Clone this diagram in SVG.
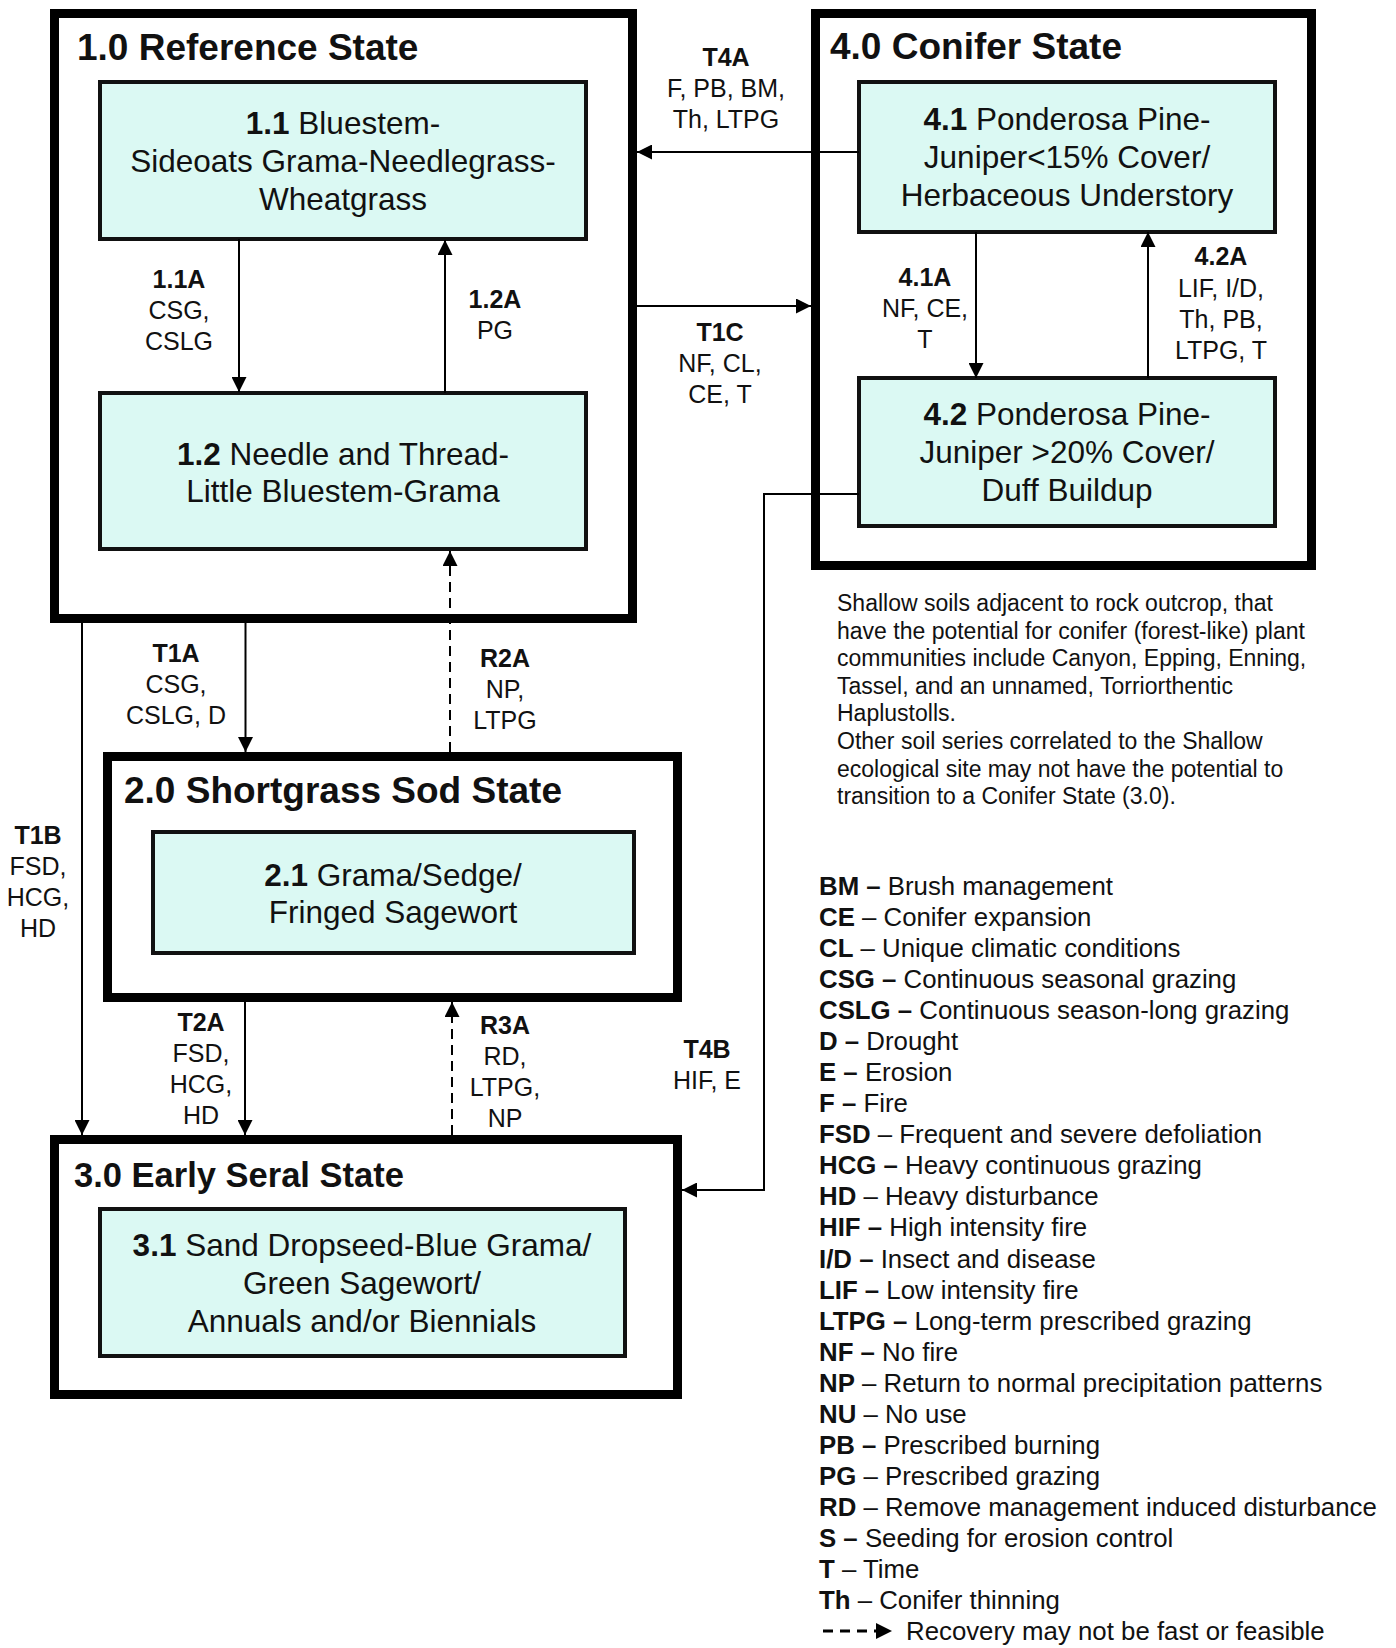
<svg xmlns="http://www.w3.org/2000/svg" width="1396" height="1648" viewBox="0 0 1396 1648">
<defs>
<style>
text{font-family:"Liberation Sans",Arial,sans-serif;fill:#111}
.outer{fill:#fff;stroke:#000;stroke-width:9}
.inner{fill:#dbf9f3;stroke:#111;stroke-width:4}
.title{font-size:37px;font-weight:bold}
.bt{font-size:31.5px;text-anchor:middle}
.lbl{font-size:25px;text-anchor:middle}
.b{font-weight:bold}
.conn{stroke:#000;stroke-width:2;fill:none}
.dash{stroke-dasharray:10 6}
.note{font-size:23px}
.leg{font-size:25.8px}
</style>
<marker id="ah" markerUnits="userSpaceOnUse" markerWidth="15" markerHeight="15" refX="15" refY="7.5" orient="auto">
<path d="M0,0 L15,7.5 L0,15 Z" fill="#000"/>
</marker>
</defs>
<rect width="1396" height="1648" fill="#fff"/>

<g id="state1">
<rect class="outer" x="54.5" y="13.5" width="578" height="605"/>
<text class="title" x="77" y="60">1.0 Reference State</text>
</g>
<g id="node11">
<rect class="inner" x="100" y="82" width="486" height="157"/>
<text class="bt" x="343" y="134"><tspan class="b">1.1</tspan> Bluestem-</text>
<text class="bt" x="343" y="172">Sideoats Grama-Needlegrass-</text>
<text class="bt" x="343" y="210">Wheatgrass</text>
</g>
<g id="node12">
<rect class="inner" x="100" y="393" width="486" height="156"/>
<text class="bt" x="343" y="465"><tspan class="b">1.2</tspan> Needle and Thread-</text>
<text class="bt" x="343" y="502">Little Bluestem-Grama</text>
</g>

<g id="state4">
<rect class="outer" x="815.5" y="13.5" width="496" height="552"/>
<text class="title" x="830" y="59">4.0 Conifer State</text>
</g>
<g id="node41">
<rect class="inner" x="859" y="82" width="416" height="150"/>
<text class="bt" x="1067" y="130"><tspan class="b">4.1</tspan> Ponderosa Pine-</text>
<text class="bt" x="1067" y="168">Juniper&lt;15% Cover/</text>
<text class="bt" x="1067" y="206">Herbaceous Understory</text>
</g>
<g id="node42">
<rect class="inner" x="859" y="378" width="416" height="148"/>
<text class="bt" x="1067" y="425"><tspan class="b">4.2</tspan> Ponderosa Pine-</text>
<text class="bt" x="1067" y="463">Juniper &gt;20% Cover/</text>
<text class="bt" x="1067" y="501">Duff Buildup</text>
</g>

<g id="state2">
<rect class="outer" x="107.5" y="756.5" width="570" height="241"/>
<text class="title" x="124" y="803">2.0 Shortgrass Sod State</text>
</g>
<g id="node21">
<rect class="inner" x="153" y="832" width="481" height="121"/>
<text class="bt" x="393" y="886"><tspan class="b">2.1</tspan> Grama/Sedge/</text>
<text class="bt" x="393" y="923">Fringed Sagewort</text>
</g>

<g id="state3">
<rect class="outer" x="54.5" y="1139.5" width="623" height="255"/>
<text class="title" x="74" y="1187" style="font-size:34.5px">3.0 Early Seral State</text>
</g>
<g id="node31">
<rect class="inner" x="100" y="1209" width="525" height="147"/>
<text class="bt" x="362" y="1256"><tspan class="b">3.1</tspan> Sand Dropseed-Blue Grama/</text>
<text class="bt" x="362" y="1294">Green Sagewort/</text>
<text class="bt" x="362" y="1332">Annuals and/or Biennials</text>
</g>

<g id="connectors">
<line class="conn" x1="239" y1="239" x2="239" y2="392" marker-end="url(#ah)"/>
<line class="conn" x1="445" y1="393" x2="445" y2="240" marker-end="url(#ah)"/>
<line class="conn" x1="245.5" y1="623" x2="245.5" y2="752" marker-end="url(#ah)"/>
<line class="conn dash" x1="450" y1="752" x2="450" y2="551" marker-end="url(#ah)"/>
<line class="conn" x1="82" y1="623" x2="82" y2="1135" marker-end="url(#ah)"/>
<line class="conn" x1="245" y1="1002" x2="245" y2="1135" marker-end="url(#ah)"/>
<line class="conn dash" x1="452" y1="1135" x2="452" y2="1002" marker-end="url(#ah)"/>
<line class="conn" x1="859" y1="152" x2="637" y2="152" marker-end="url(#ah)"/>
<line class="conn" x1="637" y1="306" x2="811" y2="306" marker-end="url(#ah)"/>
<line class="conn" x1="976" y1="232" x2="976" y2="378" marker-end="url(#ah)"/>
<line class="conn" x1="1148" y1="378" x2="1148" y2="232" marker-end="url(#ah)"/>
<path class="conn" d="M859,494 L764,494 L764,1190 L682,1190" marker-end="url(#ah)"/>
</g>

<g id="labels">
<text class="lbl"><tspan class="b" x="179" y="288">1.1A</tspan><tspan x="179" y="319">CSG,</tspan><tspan x="179" y="350">CSLG</tspan></text>
<text class="lbl"><tspan class="b" x="495" y="308">1.2A</tspan><tspan x="495" y="339">PG</tspan></text>
<text class="lbl"><tspan class="b" x="726" y="66">T4A</tspan><tspan x="726" y="97">F, PB, BM,</tspan><tspan x="726" y="128">Th, LTPG</tspan></text>
<text class="lbl"><tspan class="b" x="720" y="341">T1C</tspan><tspan x="720" y="372">NF, CL,</tspan><tspan x="720" y="403">CE, T</tspan></text>
<text class="lbl"><tspan class="b" x="925" y="286">4.1A</tspan><tspan x="925" y="317">NF, CE,</tspan><tspan x="925" y="348">T</tspan></text>
<text class="lbl"><tspan class="b" x="1221" y="265">4.2A</tspan><tspan x="1221" y="297">LIF, I/D,</tspan><tspan x="1221" y="328">Th, PB,</tspan><tspan x="1221" y="359">LTPG, T</tspan></text>
<text class="lbl"><tspan class="b" x="176" y="662">T1A</tspan><tspan x="176" y="693">CSG,</tspan><tspan x="176" y="724">CSLG, D</tspan></text>
<text class="lbl"><tspan class="b" x="505" y="667">R2A</tspan><tspan x="505" y="698">NP,</tspan><tspan x="505" y="729">LTPG</tspan></text>
<text class="lbl"><tspan class="b" x="38" y="844">T1B</tspan><tspan x="38" y="875">FSD,</tspan><tspan x="38" y="906">HCG,</tspan><tspan x="38" y="937">HD</tspan></text>
<text class="lbl"><tspan class="b" x="201" y="1031">T2A</tspan><tspan x="201" y="1062">FSD,</tspan><tspan x="201" y="1093">HCG,</tspan><tspan x="201" y="1124">HD</tspan></text>
<text class="lbl"><tspan class="b" x="505" y="1034">R3A</tspan><tspan x="505" y="1065">RD,</tspan><tspan x="505" y="1096">LTPG,</tspan><tspan x="505" y="1127">NP</tspan></text>
<text class="lbl"><tspan class="b" x="707" y="1058">T4B</tspan><tspan x="707" y="1089">HIF, E</tspan></text>
</g>

<g id="note">
<text class="note" x="837" y="611">Shallow soils adjacent to rock outcrop, that</text>
<text class="note" x="837" y="638.6">have the potential for conifer (forest-like) plant</text>
<text class="note" x="837" y="666.2">communities include Canyon, Epping, Enning,</text>
<text class="note" x="837" y="693.8">Tassel, and an unnamed, Torriorthentic</text>
<text class="note" x="837" y="721.4">Haplustolls.</text>
<text class="note" x="837" y="749">Other soil series correlated to the Shallow</text>
<text class="note" x="837" y="776.6">ecological site may not have the potential to</text>
<text class="note" x="837" y="804.2">transition to a Conifer State (3.0).</text>
</g>

<g id="legend">
<text class="leg" x="819" y="895"><tspan class="b">BM –</tspan> Brush management</text>
<text class="leg" x="819" y="926"><tspan class="b">CE</tspan> – Conifer expansion</text>
<text class="leg" x="819" y="957.1"><tspan class="b">CL</tspan> – Unique climatic conditions</text>
<text class="leg" x="819" y="988.1"><tspan class="b">CSG –</tspan> Continuous seasonal grazing</text>
<text class="leg" x="819" y="1019.2"><tspan class="b">CSLG –</tspan> Continuous season-long grazing</text>
<text class="leg" x="819" y="1050.2"><tspan class="b">D –</tspan> Drought</text>
<text class="leg" x="819" y="1081.2"><tspan class="b">E –</tspan> Erosion</text>
<text class="leg" x="819" y="1112.3"><tspan class="b">F –</tspan> Fire</text>
<text class="leg" x="819" y="1143.3"><tspan class="b">FSD</tspan> – Frequent and severe defoliation</text>
<text class="leg" x="819" y="1174.4"><tspan class="b">HCG –</tspan> Heavy continuous grazing</text>
<text class="leg" x="819" y="1205.4"><tspan class="b">HD</tspan> – Heavy disturbance</text>
<text class="leg" x="819" y="1236.4"><tspan class="b">HIF –</tspan> High intensity fire</text>
<text class="leg" x="819" y="1267.5"><tspan class="b">I/D –</tspan> Insect and disease</text>
<text class="leg" x="819" y="1298.5"><tspan class="b">LIF –</tspan> Low intensity fire</text>
<text class="leg" x="819" y="1329.6"><tspan class="b">LTPG –</tspan> Long-term prescribed grazing</text>
<text class="leg" x="819" y="1360.6"><tspan class="b">NF –</tspan> No fire</text>
<text class="leg" x="819" y="1391.6"><tspan class="b">NP</tspan> – Return to normal precipitation patterns</text>
<text class="leg" x="819" y="1422.7"><tspan class="b">NU</tspan> – No use</text>
<text class="leg" x="819" y="1453.7"><tspan class="b">PB –</tspan> Prescribed burning</text>
<text class="leg" x="819" y="1484.8"><tspan class="b">PG</tspan> – Prescribed grazing</text>
<text class="leg" x="819" y="1515.8"><tspan class="b">RD</tspan> – Remove management induced disturbance</text>
<text class="leg" x="819" y="1546.8"><tspan class="b">S –</tspan> Seeding for erosion control</text>
<text class="leg" x="819" y="1577.9"><tspan class="b">T</tspan> – Time</text>
<text class="leg" x="819" y="1608.9"><tspan class="b">Th</tspan> – Conifer thinning</text>
<line x1="823" y1="1631" x2="880" y2="1631" stroke="#000" stroke-width="3" stroke-dasharray="10 7"/>
<path d="M876,1623 L892,1631 L876,1639 Z" fill="#000"/>
<text class="leg" x="906" y="1640">Recovery may not be fast or feasible</text>
</g>
</svg>
